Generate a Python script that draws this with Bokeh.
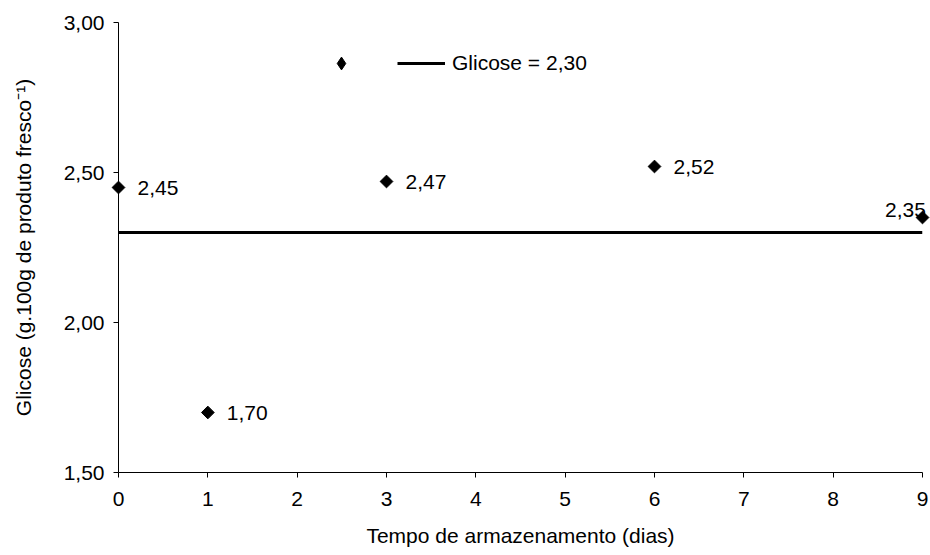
import math
from bokeh.plotting import figure
from bokeh.models import (ColumnDataSource, Range1d, FixedTicker, CustomJSTickFormatter,
                          Legend, LegendItem, CDSView, IndexFilter)
from bokeh.core.properties import value
from bokeh.embed import file_html
from bokeh.resources import INLINE

# ---- data ----
days = [0, 1, 3, 6, 9]
glucose = [2.45, 1.70, 2.47, 2.52, 2.35]
glucose_mean = 2.30
x_ticks = [0, 1, 2, 3, 4, 5, 6, 7, 8, 9]
y_ticks = [1.50, 2.00, 2.50, 3.00]
x_title = "Tempo de armazenamento (dias)"
y_title = "Glicose (g.100g de produto fresco\u207b\u00b9)"
mean_label = "Glicose = " + f"{glucose_mean:.2f}".replace(".", ",")

FONT = "Liberation Sans"

src = ColumnDataSource(dict(
    x=days, y=glucose,
    lab=[f"{v:.2f}".replace(".", ",") for v in glucose],
))
line_src = ColumnDataSource(dict(x=[min(days), max(days)], y=[glucose_mean, glucose_mean]))

p = figure(width=930, height=555, output_backend="svg", toolbar_location=None,
           x_range=Range1d(min(x_ticks), max(x_ticks)),
           y_range=Range1d(min(y_ticks), max(y_ticks)),
           min_border_left=118, min_border_right=8, min_border_top=22, min_border_bottom=83)
p.outline_line_color = None
p.grid.visible = False
p.background_fill_color = "white"
p.border_fill_color = "white"

fmt = CustomJSTickFormatter(code="return tick.toFixed(2).replace('.', ',');")

p.xaxis.ticker = FixedTicker(ticks=x_ticks)
p.yaxis.ticker = FixedTicker(ticks=y_ticks)
p.yaxis.formatter = fmt
for ax in (p.xaxis, p.yaxis):
    ax.axis_line_color = "black"
    ax.axis_line_width = 1
    ax.major_tick_line_color = "black"
    ax.major_tick_in = 0
    ax.major_tick_out = 5
    ax.minor_tick_line_color = None
    ax.major_label_text_font = FONT
    ax.major_label_text_font_size = "21px"
    ax.major_label_text_color = "black"
    ax.axis_label_text_font = FONT
    ax.axis_label_text_font_size = "21px"
    ax.axis_label_text_font_style = "normal"
    ax.axis_label_text_color = "black"
p.xaxis.axis_label = x_title
p.yaxis.axis_label = y_title
p.xaxis.major_label_standoff = 14
p.yaxis.major_label_standoff = 9
p.xaxis.axis_label_standoff = 15
p.yaxis.axis_label_standoff = 26

# mean line
mean_r = p.line("x", "y", source=line_src, line_color="black", line_width=3)

# points (rotated squares -> diamonds), drawn unclipped
pts = p.scatter("x", "y", source=src, marker="square", angle=math.pi / 4, size=9,
                fill_color="black", line_color="black", level="overlay")
# legend-only diamond glyph
leg_pts = p.scatter("x", "y", source=src, marker="diamond", size=13,
                    fill_color="black", line_color="black", visible=False)

# data labels
n = len(days)
last = [i for i in range(n) if days[i] == max(days)]
rest = [i for i in range(n) if i not in last]
p.text("x", "y", text="lab", source=src, view=CDSView(filter=IndexFilter(rest)),
       text_font=value(FONT), text_font_size="21px", text_color="black",
       text_align="left", text_baseline="middle", x_offset=19, y_offset=0, level="overlay")
p.text("x", "y", text="lab", source=src, view=CDSView(filter=IndexFilter(last)),
       text_font=value(FONT), text_font_size="21px", text_color="black",
       text_align="center", text_baseline="alphabetic", x_offset=-17, y_offset=-8,
       level="overlay")

legend = Legend(items=[LegendItem(label=value(""), renderers=[leg_pts]),
                       LegendItem(label=value(mean_label), renderers=[mean_r])],
                orientation="horizontal", location=(199, 393),
                glyph_width=48, glyph_height=32, label_standoff=7, spacing=5,
                padding=0, margin=0, border_line_color=None, background_fill_alpha=0,
                label_text_font=FONT, label_text_font_size="21px", label_text_color="black")
p.add_layout(legend, "center")

open("out.html", "w").write(file_html(p, INLINE))
